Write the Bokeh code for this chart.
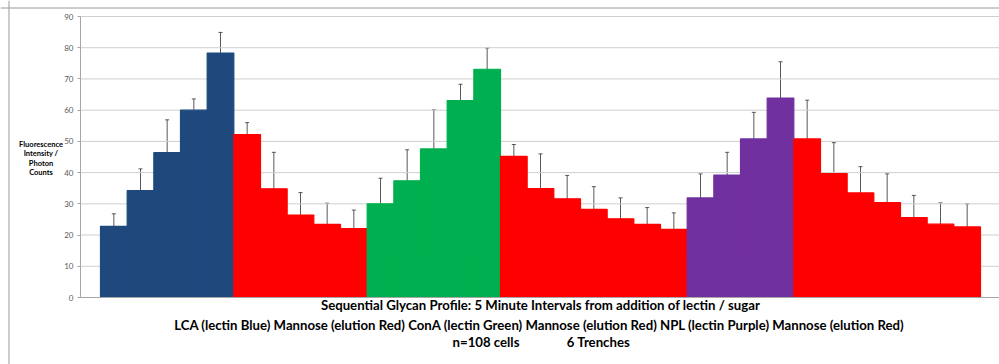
from bokeh.plotting import figure
from bokeh.models import ColumnDataSource, Range1d, FixedTicker, Whisker, TeeHead, Label, Span
from bokeh.embed import file_html
from bokeh.resources import INLINE

# ---- data ----
lca = [22.8, 34.2, 46.4, 60.0, 78.3]
lca_err = [4.0, 7.0, 10.5, 3.6, 6.6]
man1 = [52.2, 34.8, 26.4, 23.4, 22.1]
man1_err = [3.8, 11.7, 7.2, 6.8, 5.9]
cona = [30.0, 37.4, 47.6, 63.1, 73.1]
cona_err = [8.2, 9.9, 12.5, 5.2, 6.8]
man2 = [45.2, 34.9, 31.6, 28.2, 25.2, 23.4, 21.8]
man2_err = [3.8, 11.1, 7.5, 7.3, 6.7, 5.4, 5.3]
npl = [31.9, 39.2, 50.8, 63.9]
npl_err = [7.7, 7.3, 8.5, 11.6]
man3 = [50.8, 39.7, 33.5, 30.4, 25.6, 23.5, 22.6]
man3_err = [12.4, 9.9, 8.4, 9.2, 7.1, 6.8, 7.4]

group_colors = ["#1F497D", "#FF0000", "#00B050", "#FF0000", "#7030A0", "#FF0000"]
y_ticks = [0, 10, 20, 30, 40, 50, 60, 70, 80, 90]

title_1 = "Sequential Glycan Profile: 5 Minute Intervals from addition of lectin / sugar"
title_2 = "LCA (lectin Blue) Mannose (elution Red) ConA (lectin Green) Mannose (elution Red) NPL (lectin Purple) Mannose (elution Red)"
title_3a = "n=108 cells"
title_3b = "6 Trenches"
y_label_lines = ["Fluorescence", "Intensity /", "Photon", "Counts"]

groups = [(lca, lca_err), (man1, man1_err), (cona, cona_err),
          (man2, man2_err), (npl, npl_err), (man3, man3_err)]

vals, errs, cols = [], [], []
for (v, e), c in zip(groups, group_colors):
    vals += v
    errs += e
    cols += [c] * len(v)
xs = list(range(len(vals)))
src = ColumnDataSource(dict(
    x=xs, top=vals, color=cols,
    upper=[v + e for v, e in zip(vals, errs)],
    lower=[v - e for v, e in zip(vals, errs)],
))

# ---- layout constants (page pixels) ----
W, H = 999, 364
AXIS_PX, ZERO_PX, TOP_PX = 80, 297, 16
BAR_PX = 880.0 / 33                 # one category width in px
PY = (ZERO_PX - TOP_PX) / 90.0      # px per y unit
X_AXIS = -1.25                      # data x where the value axis sits
x_start = X_AXIS - AXIS_PX / BAR_PX
x_end = x_start + W / BAR_PX
y_start = -(H - ZERO_PX) / PY
y_end = ZERO_PX / PY

def px_x(page_x):
    return x_start + page_x / BAR_PX

def px_y(page_y):
    return (ZERO_PX - page_y) / PY

p = figure(width=W, height=H, output_backend="svg", toolbar_location=None,
           x_range=Range1d(x_start, x_end), y_range=Range1d(y_start, y_end),
           min_border_left=0, min_border_right=0, min_border_top=0, min_border_bottom=0,
           background_fill_color="white", border_fill_color="white")
p.outline_line_color = None
p.xgrid.visible = False
p.ygrid.visible = False

# horizontal gridlines from the tick list
grid_src = ColumnDataSource(dict(y=y_ticks[1:]))
p.segment(x0=X_AXIS, x1=x_end, y0="y", y1="y", source=grid_src,
          line_color="#cfcfcf", line_width=1)

# outer chart frame: left and top edges
p.add_layout(Span(location=px_x(8.5), dimension="height", line_color="#9a9a9a", line_width=1))
p.add_layout(Span(location=px_y(7.5), dimension="width", line_color="#9a9a9a", line_width=1))

p.vbar(x="x", top="top", bottom=0, width=1.0, source=src,
       fill_color="color", line_color="color", line_width=1.2)

wh = Whisker(source=src, base="x", upper="upper", lower="lower",
             line_color="#3c3c3c", line_width=1, line_alpha=0.85,
             upper_head=TeeHead(size=4, line_color="#3c3c3c", line_width=1, line_alpha=0.85),
             lower_head=TeeHead(size=4, line_color="#3c3c3c", line_width=1, line_alpha=0.85))
p.add_layout(wh)

# value axis (library axis, fixed at the plot's left edge)
p.yaxis.fixed_location = X_AXIS
p.yaxis.bounds = (0, 90)
p.yaxis.ticker = FixedTicker(ticks=y_ticks)
p.yaxis.major_label_text_font = "Lato"
p.yaxis.major_label_text_font_size = "8px"
p.yaxis.major_label_text_color = "#595959"
p.yaxis.major_tick_out = 3
p.yaxis.major_tick_in = 0
p.yaxis.minor_tick_line_color = None
p.yaxis.major_tick_line_color = "#a6a6a6"
p.yaxis.axis_line_color = "#a6a6a6"
p.yaxis.major_label_standoff = 4

# category axis line at zero
p.xaxis.fixed_location = 0
p.xaxis.bounds = (X_AXIS, x_end)
p.xaxis.ticker = FixedTicker(ticks=[])
p.xaxis.major_tick_line_color = None
p.xaxis.minor_tick_line_color = None
p.xaxis.axis_line_color = "#a6a6a6"

def add_text(txt, page_x, page_y, size):
    p.add_layout(Label(x=px_x(page_x), y=px_y(page_y),
                       text=txt, text_align="center", text_baseline="middle",
                       text_font="Lato", text_font_style="bold",
                       text_font_size=size, text_color="#000000"))

# y-axis title (horizontal, left of the axis)
for i, line in enumerate(y_label_lines):
    add_text(line, 40.5, 144 + i * 9.3, "7.5px")

# bottom titles
add_text(title_1, 540, 304, "13.2px")
add_text(title_2, 539, 324, "13.2px")
add_text(title_3a, 485.5, 341.5, "13.2px")
add_text(title_3b, 598, 341.5, "13.2px")

open("out.html", "w").write(file_html(p, INLINE))
